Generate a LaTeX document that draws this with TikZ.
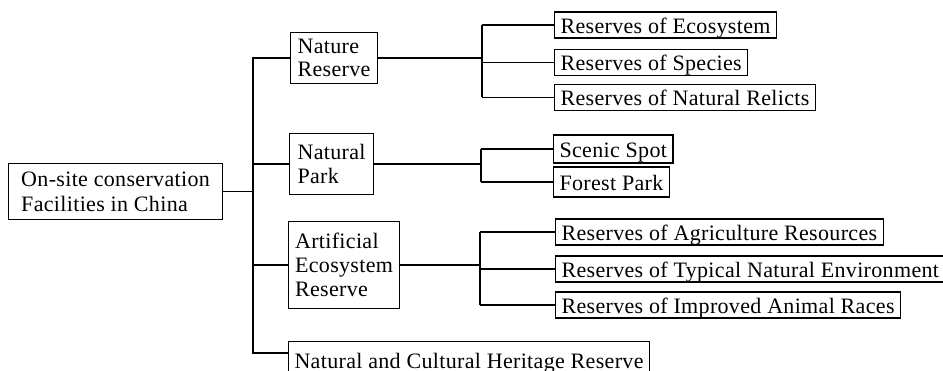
\documentclass[tikz,border=0pt]{standalone}
\usepackage{fontspec}
\setmainfont{Liberation Serif}[LetterSpace=1.5]
\begin{document}
\begin{tikzpicture}[x=1pt,y=-1pt,
  every node/.style={font=\fontsize{22}{24}\selectfont},
  box/.style={draw,line width=1.1pt,align=left,inner sep=0pt},
  leaf/.style={draw,line width=1.1pt,anchor=west,minimum height=26pt,inner xsep=6pt,inner ysep=0pt,text height=17pt,text depth=0pt},
  conn/.style={line width=1.1pt}]
\path[use as bounding box,clip] (0,0) rectangle (943,371);
\fill[white] (0,0) rectangle (943,371);
% root
\node[box,anchor=north west,minimum width=214pt,minimum height=56pt,font=\fontsize{22}{25}\selectfont] (root) at (8,163) {On-site conservation\\Facilities in China};
% middle level
\node[box,anchor=north west,minimum width=87pt,minimum height=51pt,font=\fontsize{22}{23}\selectfont] (nature) at (290,32) {Nature\\Reserve};
\node[box,anchor=north west,minimum width=84pt,minimum height=61pt] (park) at (289,133) {Natural\\Park};
\node[box,anchor=north west,minimum width=111pt,minimum height=87pt] (arti) at (288,221) {Artificial\\Ecosystem\\Reserve};
\node[box,anchor=north west,inner xsep=6pt,minimum height=36pt,text height=17pt,text depth=0pt] (heri) at (288,341) {Natural and Cultural Heritage Reserve};
% leaves
\node[leaf] (eco) at (554,25) {Reserves of Ecosystem};
\node[leaf] (spec) at (554,62.5) {Reserves of Species};
\node[leaf] (reli) at (554,97.5) {Reserves of Natural Relicts};
\node[leaf,minimum height=28pt] (scen) at (553,149) {Scenic Spot};
\node[leaf,minimum height=30pt] (fore) at (553,182) {Forest Park};
\node[leaf] (agri) at (555,232) {Reserves of Agriculture Resources};
\node[leaf] (typi) at (555,269) {Reserves of Typical Natural Environment};
\node[leaf] (impr) at (555,305) {Reserves of Improved Animal Races};
% trunk
\coordinate (tt) at (253,57.5);
\coordinate (tb) at (253,353);
\draw[conn] (tt) -- (tb) -- (tb -| heri.west);
\draw[conn] (root.east) -- (root.east -| tt);
\draw[conn] (nature.west) -- (nature.west -| tt);
\draw[conn] (park.west) -- (park.west -| tt);
\draw[conn] (arti.west) -- (arti.west -| tt);
% branches
\coordinate (b1) at (482,0);
\coordinate (b2) at (481,0);
\coordinate (b3) at (480,0);
\draw[conn] (nature.east) -- (nature.east -| b1);
\draw[conn] (b1 |- eco.west) -- (b1 |- reli.west);
\draw[conn] (eco.west) -- (eco.west -| b1);
\draw[conn] (spec.west) -- (spec.west -| b1);
\draw[conn] (reli.west) -- (reli.west -| b1);
\draw[conn] (park.east) -- (park.east -| b2);
\draw[conn] (b2 |- scen.west) -- (b2 |- fore.west);
\draw[conn] (scen.west) -- (scen.west -| b2);
\draw[conn] (fore.west) -- (fore.west -| b2);
\draw[conn] (arti.east) -- (arti.east -| b3);
\draw[conn] (b3 |- agri.west) -- (b3 |- impr.west);
\draw[conn] (agri.west) -- (agri.west -| b3);
\draw[conn] (typi.west) -- (typi.west -| b3);
\draw[conn] (impr.west) -- (impr.west -| b3);
\end{tikzpicture}
\end{document}
